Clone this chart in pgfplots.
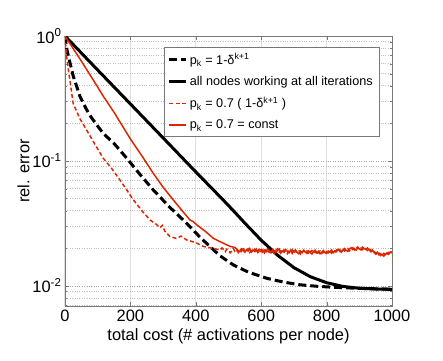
\documentclass[border=0pt]{standalone}
\usepackage{fontspec}
\setmainfont{Liberation Sans}
\usepackage{pgfplots}
\pgfplotsset{compat=1.18}
\definecolor{myred}{RGB}{221,38,0}
\definecolor{boxgray}{RGB}{120,120,120}

\begin{document}
\begin{tikzpicture}
\begin{axis}[
  width=327bp, height=270bp, scale only axis,
  xmin=0, xmax=1000, ymode=log, ymin=0.0069, ymax=1,
  xtick={0,200,...,1000},
  ytick={0.01,0.1,1},
  yticklabels={10\textsuperscript{-2},10\textsuperscript{-1},10\textsuperscript{0}},
  minor ytick={0.007,0.008,0.009,0.02,0.03,0.04,0.05,0.06,0.07,0.08,0.09,0.2,0.3,0.4,0.5,0.6,0.7,0.8,0.9},
  /pgf/number format/assume math mode=true,
  /pgf/number format/1000 sep={},
  tick label style={font=\fontsize{16.5}{18}\selectfont},
  label style={font=\fontsize{16.5}{18}\selectfont},
  xlabel={total cost (\# activations per node)},
  ylabel={rel. error},
  xlabel style={yshift=-1bp},
  ylabel style={yshift=-4bp},
  tick align=inside,
  major tick length=4bp, minor tick length=2bp,
  tick style={boxgray},
  axis line style={boxgray, line width=0.8bp},
  grid=both,
  major x grid style={gray!25, line width=1bp},
  major y grid style={gray!70, dotted, line width=0.6bp},
  minor y grid style={gray!50, dotted, line width=0.5bp},
  legend style={at={(0.960,0.959)}, anchor=north east, draw=boxgray,
    font=\fontsize{12.7}{14}\selectfont, row sep=6.5bp, inner sep=4bp},
  legend cell align=left,
  clip=true,
]
% p_k = 1 - delta^{k+1}
\addplot[black, line width=3bp, dash pattern=on 8bp off 4bp] coordinates {
(0,1.0) (5,0.80) (13,0.645) (25,0.48) (46,0.327) (65,0.260) (80,0.224) (100,0.190)
(117,0.166) (150,0.138) (189,0.105) (230,0.0776) (270,0.0586) (320,0.0427)
(372,0.0317) (413,0.0245) (474,0.0174) (515,0.0147) (560,0.0129) (617,0.0115)
(670,0.0107) (719,0.0102) (770,0.00993) (820,0.00975) (900,0.00955) (1000,0.0094)
};
\addlegendentry{p\textsubscript{k} = 1-δ\textsuperscript{k+1}}
% all nodes
\addplot[black, line width=3bp] coordinates {
(0,1.0) (100,0.534) (200,0.286) (300,0.153) (400,0.0817) (450,0.0600) (500,0.0440)
(550,0.0318) (600,0.0232) (650,0.0176) (700,0.0140) (750,0.01185)
(800,0.0106) (850,0.0099) (900,0.00957) (950,0.00944) (1000,0.00938)
};
\addlegendentry{all nodes working at all iterations}
% p_k = 0.7 (1 - delta^{k+1})
\addplot[myred, line width=1.5bp, dash pattern=on 4bp off 2.5bp] coordinates {
(0,1.0) (5,0.684) (12,0.50) (25,0.289) (45,0.219) (66,0.177) (90,0.138) (117,0.105)
(140,0.0891) (168,0.0705) (190,0.0580) (209,0.0488) (235,0.0400) (260,0.0337)
(280,0.0310) (290,0.0292) (298,0.0305) (305,0.0275) (321,0.0248) (340,0.0240)
(355,0.0250) (372,0.0233) (400,0.0222) (423,0.0207) (450,0.0200) (474,0.0194)
(480,0.0201) (485,0.0195) (490,0.0188) (495,0.0197) (500,0.0192) (505,0.0184)
(510,0.0190) (515,0.0199) (520,0.0187) (525,0.0193) (530,0.0185) (535,0.0196)
(540,0.0189) (545,0.0201) (550,0.0186) (555,0.0192) (560,0.0198) (565,0.0185)
(570,0.0191) (575,0.0187) (580,0.0196) (585,0.0183) (590,0.0190) (595,0.0199)
(600,0.0188) (605,0.0194) (610,0.0184) (615,0.0197) (620,0.0189) (625,0.0186)
(630,0.0195) (635,0.0190) (640,0.0182) (645,0.0193) (650,0.0198) (655,0.0186)
(660,0.0191) (665,0.0184) (670,0.0194) (675,0.0187) (680,0.0181) (685,0.0192)
(690,0.0188) (695,0.0195) (700,0.0183) (705,0.0189) (710,0.0186) (715,0.0193)
(720,0.0180) (725,0.0188) (730,0.0191) (735,0.0184) (740,0.0190) (745,0.0179)
(750,0.0187) (755,0.0192) (760,0.0183) (765,0.0189) (770,0.0178) (775,0.0186)
(780,0.0190) (785,0.0182) (790,0.0187) (795,0.0180) (800,0.0188) (805,0.0184)
(810,0.0191) (815,0.0183) (820,0.0189) (825,0.0186) (830,0.0193) (835,0.0187)
(840,0.0195) (845,0.0189) (850,0.0197) (855,0.0190) (860,0.0195) (865,0.0199)
(870,0.0191) (875,0.0198) (880,0.0202) (885,0.0194) (890,0.0200) (895,0.0205)
(900,0.0196) (905,0.0201) (910,0.0195) (915,0.0203) (920,0.0197) (925,0.0192)
(930,0.0199) (935,0.0193) (940,0.0186) (945,0.0190) (950,0.0182) (955,0.0178)
(960,0.0183) (965,0.0175) (970,0.0179) (975,0.0173) (980,0.0180) (985,0.0176)
(990,0.0185) (995,0.0181) (1000,0.0188)
};
\addlegendentry{p\textsubscript{k} = 0.7 ( 1-δ\textsuperscript{k+1} )}
% p_k = 0.7 const
\addplot[myred, line width=1.5bp] coordinates {
(0,1.0) (50,0.63) (100,0.39) (117,0.33) (150,0.245) (200,0.150) (240,0.105)
(270,0.0796) (300,0.0617) (331,0.0488) (360,0.0395) (382,0.0337) (392,0.0327)
(403,0.0308) (430,0.0272) (454,0.0240) (480,0.0222) (505,0.0207) (520,0.0203)
(525,0.0197) (530,0.0191) (535,0.0188) (540,0.0198) (545,0.0193) (550,0.0186)
(555,0.0195) (560,0.0190) (565,0.0199) (570,0.0187) (575,0.0194) (580,0.0189)
(585,0.0197) (590,0.0185) (595,0.0192) (600,0.0195) (605,0.0186) (610,0.0193)
(615,0.0188) (620,0.0198) (625,0.0191) (630,0.0184) (635,0.0196) (640,0.0189)
(645,0.0185) (650,0.0192) (655,0.0197) (660,0.0183) (665,0.0190) (670,0.0186)
(675,0.0195) (680,0.0189) (685,0.0184) (690,0.0193) (695,0.0182) (700,0.0191)
(705,0.0194) (710,0.0185) (715,0.0181) (720,0.0190) (725,0.0184) (730,0.0193)
(735,0.0187) (740,0.0182) (745,0.0191) (750,0.0185) (755,0.0180) (760,0.0188)
(765,0.0193) (770,0.0184) (775,0.0189) (780,0.0181) (785,0.0186) (790,0.0192)
(795,0.0185) (800,0.0182) (805,0.0190) (810,0.0186) (815,0.0194) (820,0.0184)
(825,0.0191) (830,0.0188) (835,0.0196) (840,0.0190) (845,0.0186) (850,0.0194)
(855,0.0199) (860,0.0192) (865,0.0189) (870,0.0197) (875,0.0202) (880,0.0195)
(885,0.0199) (890,0.0193) (895,0.0201) (900,0.0198) (905,0.0194) (910,0.0204)
(915,0.0199) (920,0.0196) (925,0.0201) (930,0.0194) (935,0.0188) (940,0.0194)
(945,0.0185) (950,0.0180) (955,0.0186) (960,0.0177) (965,0.0181) (970,0.0176)
(975,0.0182) (980,0.0178) (985,0.0184) (990,0.0179) (995,0.0187) (1000,0.0183)
};
\addlegendentry{p\textsubscript{k} = 0.7 = const}
\coordinate (sw) at (rel axis cs:0,0);
\coordinate (ne) at (rel axis cs:1,1);
\end{axis}
\pgfresetboundingbox
\path[use as bounding box] ([xshift=-65bp,yshift=-54bp]sw) rectangle ([xshift=51bp,yshift=36bp]ne);
\end{tikzpicture}
\end{document}
